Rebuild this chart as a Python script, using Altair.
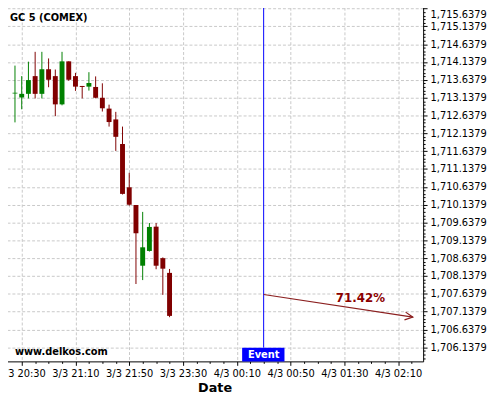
import altair as alt
import pandas as pd

# ---- data ----
candle_index = list(range(24))
candle_open = [1713.255, 1713.144, 1713.246, 1713.743, 1713.246, 1713.936, 1713.743, 1712.951,
               1714.157, 1713.743, 1713.467, 1713.448, 1713.439, 1713.136, 1712.832, 1712.529,
               1711.839, 1710.626, 1710.129, 1708.427, 1708.841, 1709.522, 1708.639, 1708.226]
candle_high = [1714.038, 1713.743, 1714.148, 1714.424, 1714.424, 1714.239, 1713.928, 1714.424,
               1714.157, 1713.834, 1713.467, 1713.853, 1713.735, 1713.541, 1712.943, 1712.741,
               1712.328, 1711.031, 1710.129, 1709.936, 1709.624, 1709.624, 1708.660, 1708.336]
candle_low = [1712.446, 1712.813, 1713.117, 1713.117, 1713.117, 1713.431, 1712.620, 1712.924,
              1713.613, 1713.329, 1713.117, 1713.337, 1713.120, 1712.750, 1712.328, 1711.646,
              1710.424, 1710.110, 1707.914, 1708.024, 1708.824, 1708.328, 1707.610, 1706.984]
candle_close = [1713.280, 1713.246, 1713.632, 1713.246, 1713.936, 1713.641, 1712.951, 1714.157,
                1713.641, 1713.448, 1713.439, 1713.550, 1713.136, 1712.841, 1712.455, 1712.041,
                1710.441, 1710.137, 1709.337, 1708.943, 1709.514, 1708.427, 1708.344, 1707.020]

tick_positions = [1, 9, 17, 25, 33, 41, 49, 57]
tick_labels = ["3/3 20:30", "3/3 21:10", "3/3 21:50", "3/3 23:30",
               "4/3 00:10", "4/3 00:50", "4/3 01:30", "4/3 02:10"]

event_index = 37
arrow_x = [37, 59.2]
arrow_y = [1707.619, 1706.984]
arrow_label = "71.42%"
arrow_label_x = 51.4
arrow_label_y = 1707.508

y_min, y_max = 1705.744, 1715.674
x_min, x_max = -0.6, 60

FONT = "DejaVu Sans"
GREEN = "#008000"
RED = "#800000"
ARROW = "#8b1f1f"

df = pd.DataFrame({
    "i": candle_index, "o": candle_open, "h": candle_high,
    "l": candle_low, "c": candle_close,
})
df["dir"] = ["up" if c >= o else "down" for o, c in zip(df["o"], df["c"])]

label_map = "{" + ",".join(f'"{p}":"{t}"' for p, t in zip(tick_positions, tick_labels)) + "}"
x_values = list(range(1, 60, 2))
y_values = [round(1705.8379 + 0.1 * k, 4) for k in range(99)]

x_scale = alt.Scale(domain=[x_min, x_max], nice=False, zero=False)
y_scale = alt.Scale(domain=[y_min, y_max], nice=False, zero=False)

x_axis = alt.Axis(
    values=x_values, tickCount=500,
    labelExpr=f"({label_map})[''+datum.value] || ''",
    title="Date", titleFont=FONT, titleFontSize=13, titleFontWeight="bold",
    titleColor="black", titlePadding=4,
    labelFont=FONT, labelFontSize=10, labelColor="black", labelPadding=3,
    labelOverlap=False, labelBound=False, labelFlush=False,
    domainColor="black", tickColor="black",
    tickSize={"condition": {"test": "datum.value % 8 == 1", "value": 4}, "value": 2},
    grid=True, gridColor="#c8c8c8", gridDash=[3, 2],
    gridOpacity={"condition": {"test": "datum.value % 8 == 1", "value": 1}, "value": 0},
)

major_y = "abs(round((datum.value - 1706.1379) * 10)) % 5 == 0"
y_axis = alt.Axis(
    orient="right", values=y_values, tickCount=500,
    labelExpr=f"{major_y} ? format(datum.value, ',.4f') : ''",
    title=None,
    labelFont=FONT, labelFontSize=10, labelColor="black", labelPadding=3,
    labelOffset={"condition": {"test": "datum.value > 1715.6", "value": 6}, "value": 0},
    labelOverlap=False, labelBound=False, labelFlush=False,
    domainColor="black", tickColor="black",
    tickSize={"condition": {"test": major_y, "value": 4}, "value": 2},
    grid=True, gridColor="#c8c8c8", gridDash=[3, 2],
    gridOpacity={"condition": {"test": major_y, "value": 1}, "value": 0},
)

color = alt.Color("dir:N", scale=alt.Scale(domain=["up", "down"], range=[GREEN, RED]), legend=None)

base = alt.Chart(df)
wicks = base.mark_rule(strokeWidth=1).encode(
    x=alt.X("i:Q", scale=x_scale, axis=x_axis),
    y=alt.Y("l:Q", scale=y_scale, axis=y_axis),
    y2="h:Q",
    color=color,
)
bodies = base.mark_bar(size=5).encode(
    x=alt.X("i:Q", scale=x_scale),
    y=alt.Y("o:Q", scale=y_scale),
    y2="c:Q",
    color=color,
)

event_df = pd.DataFrame({"i": [event_index], "x1": [33.8], "x2": [40.1], "label": ["Event"]})
event_line = alt.Chart(event_df).mark_rule(color="#0000ff", strokeWidth=1).encode(
    x=alt.X("i:Q", scale=x_scale), y=alt.value(0), y2=alt.value(346)
)
event_box = alt.Chart(event_df).mark_rect(color="#0000ff").encode(
    x=alt.X("x1:Q", scale=x_scale), x2="x2:Q", y=alt.value(346), y2=alt.value(360)
)
event_text = alt.Chart(event_df).mark_text(
    color="white", font=FONT, fontSize=10, fontWeight="bold", baseline="middle"
).encode(x=alt.X("i:Q", scale=x_scale), y=alt.value(353.5), text="label:N")

arrow_df = pd.DataFrame({"x": arrow_x, "y": arrow_y, "k": [0, 1]})
arrow_line = alt.Chart(arrow_df).mark_line(color=ARROW, strokeWidth=1.2).encode(
    x=alt.X("x:Q", scale=x_scale), y=alt.Y("y:Q", scale=y_scale), order="k:Q"
)
arrow_head = alt.Chart(arrow_df.iloc[[1]]).mark_point(
    shape="M-1,-0.5L0,0L-1,0.5", filled=False, color=ARROW, strokeWidth=1.2,
    size=256, angle=8.4, opacity=1
).encode(x=alt.X("x:Q", scale=x_scale), y=alt.Y("y:Q", scale=y_scale))

label_df = pd.DataFrame({"x": [arrow_label_x], "y": [arrow_label_y], "t": [arrow_label]})
arrow_text = alt.Chart(label_df).mark_text(
    color="#8b0000", font=FONT, fontSize=12, fontWeight="bold", baseline="middle"
).encode(x=alt.X("x:Q", scale=x_scale), y=alt.Y("y:Q", scale=y_scale), text="t:N")

title_df = pd.DataFrame({"t": ["GC 5 (COMEX)"]})
title_text = alt.Chart(title_df).mark_text(
    color="black", font=FONT, fontSize=10, fontWeight="bold", align="left", baseline="middle"
).encode(x=alt.value(4), y=alt.value(11), text="t:N")

wm_df = pd.DataFrame({"t": ["www.delkos.com"]})
wm_text = alt.Chart(wm_df).mark_text(
    color="black", font=FONT, fontSize=10, fontWeight="bold", align="left", baseline="middle"
).encode(x=alt.value(9), y=alt.value(350), text="t:N")

chart = alt.layer(
    wicks, bodies, event_line, event_box, event_text,
    arrow_line, arrow_head, arrow_text, title_text, wm_text
).properties(
    width=424, height=360,
    autosize=alt.AutoSizeParams(type="none"),
    padding={"left": -2, "top": -4, "right": 70, "bottom": 36},
    background="white",
).configure_view(stroke=None)

chart.save("out.html", embed_options={"renderer": "svg", "actions": False})
